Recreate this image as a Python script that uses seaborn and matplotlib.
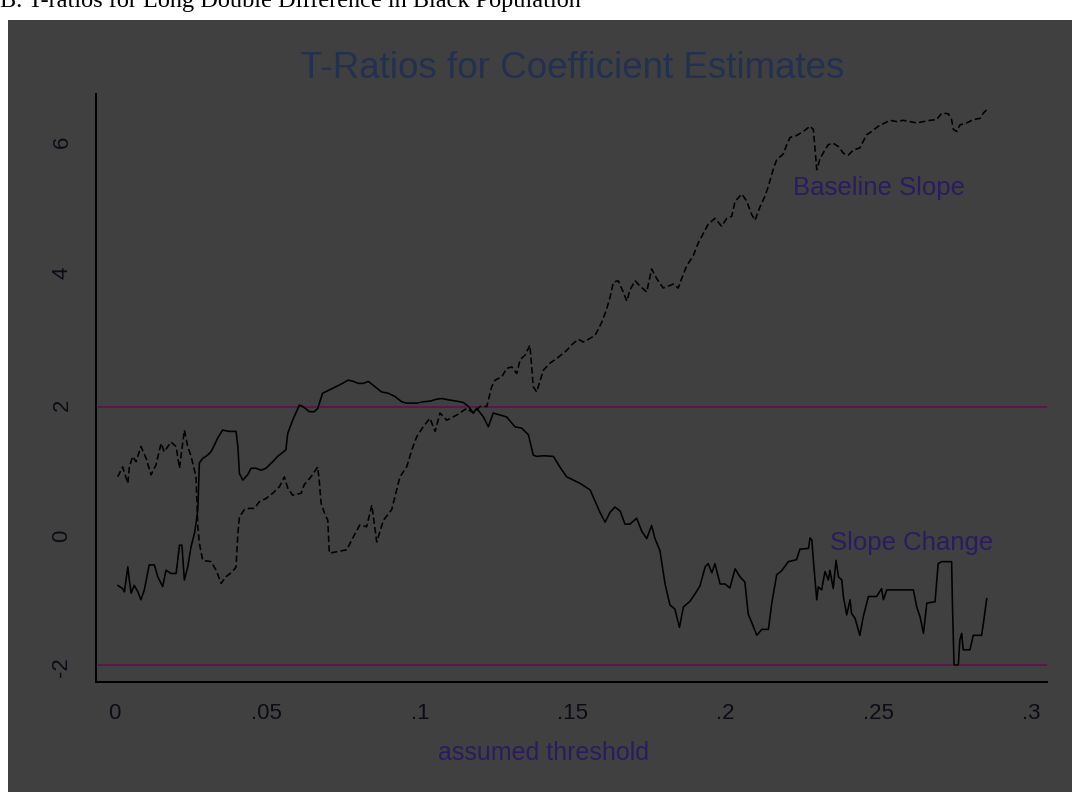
import matplotlib
matplotlib.use("Agg")
import matplotlib.pyplot as plt
from matplotlib.patches import Rectangle
import numpy as np
import pandas as pd
import seaborn as sns

# ---- data ---------------------------------------------------------------
baseline_x = [
    0.0012, 0.0028, 0.0045, 0.0050, 0.0061, 0.0072, 0.0088, 0.0105, 0.0121, 0.0137,
    0.0154, 0.0164, 0.0176, 0.0186, 0.0203, 0.0214, 0.0230, 0.0241, 0.0252, 0.0268,
    0.0274, 0.0279, 0.0290, 0.0317, 0.0334, 0.0350, 0.0366, 0.0388, 0.0399, 0.0405,
    0.0410, 0.0426, 0.0442, 0.0459, 0.0475, 0.0497, 0.0519, 0.0541, 0.0557, 0.0568,
    0.0584, 0.0612, 0.0622, 0.0644, 0.0666, 0.0671, 0.0677, 0.0688, 0.0699, 0.0704,
    0.0728, 0.0761, 0.0783, 0.0804, 0.0826, 0.0843, 0.0859, 0.0881, 0.0908, 0.0935,
    0.0957, 0.0974, 0.0990, 0.1011, 0.1033, 0.1050, 0.1066, 0.1088, 0.1121, 0.1153,
    0.1175, 0.1197, 0.1219, 0.1235, 0.1246, 0.1268, 0.1284, 0.1301, 0.1317, 0.1328,
    0.1344, 0.1360, 0.1371, 0.1382, 0.1404, 0.1426, 0.1448, 0.1469, 0.1480, 0.1497,
    0.1518, 0.1535, 0.1551, 0.1573, 0.1595, 0.1611, 0.1622, 0.1633, 0.1649, 0.1665,
    0.1677, 0.1687, 0.1704, 0.1720, 0.1742, 0.1758, 0.1775, 0.1796, 0.1829, 0.1845,
    0.1856, 0.1873, 0.1894, 0.1911, 0.1927, 0.1943, 0.1965, 0.1987, 0.2004, 0.2020,
    0.2031, 0.2053, 0.2069, 0.2085, 0.2096, 0.2112, 0.2129, 0.2140, 0.2156, 0.2167,
    0.2189, 0.2200, 0.2211, 0.2232, 0.2254, 0.2276, 0.2287, 0.2298, 0.2309, 0.2325,
    0.2336, 0.2352, 0.2369, 0.2385, 0.2401, 0.2418, 0.2439, 0.2461, 0.2478, 0.2499,
    0.2521, 0.2538, 0.2560, 0.2581, 0.2603, 0.2625, 0.2647, 0.2668, 0.2690, 0.2707,
    0.2728, 0.2739, 0.2745, 0.2756, 0.2766, 0.2788, 0.2810, 0.2832, 0.2843, 0.2854,
]
baseline_t = [
    0.90, 1.05, 0.80, 1.05, 1.21, 1.13, 1.36, 1.18, 0.93, 1.08,
    1.41, 1.28, 1.36, 1.43, 1.36, 1.03, 1.61, 1.36, 1.21, 0.90,
    0.14, -0.11, -0.37, -0.39, -0.52, -0.72, -0.62, -0.54, -0.47, 0.04,
    0.29, 0.40, 0.42, 0.42, 0.52, 0.57, 0.65, 0.75, 0.90, 0.73,
    0.62, 0.65, 0.78, 0.90, 1.05, 0.85, 0.50, 0.35, 0.24, -0.26,
    -0.24, -0.21, -0.01, 0.17, 0.14, 0.47, -0.09, 0.24, 0.40, 0.90,
    1.05, 1.31, 1.51, 1.66, 1.79, 1.59, 1.87, 1.76, 1.84, 1.94,
    1.87, 1.97, 1.97, 2.27, 2.37, 2.42, 2.55, 2.57, 2.47, 2.68,
    2.75, 2.90, 2.27, 2.19, 2.52, 2.63, 2.70, 2.78, 2.82, 2.91,
    2.99, 2.95, 2.99, 3.05, 3.25, 3.45, 3.63, 3.86, 3.88, 3.71,
    3.57, 3.74, 3.88, 3.80, 3.71, 4.06, 3.91, 3.77, 3.83, 3.77,
    3.91, 4.11, 4.26, 4.46, 4.60, 4.74, 4.83, 4.71, 4.83, 4.86,
    5.09, 5.20, 5.09, 4.89, 4.80, 5.00, 5.17, 5.32, 5.58, 5.72,
    5.81, 5.95, 6.06, 6.09, 6.15, 6.23, 6.18, 5.57, 5.74, 5.87,
    5.95, 5.97, 5.92, 5.82, 5.79, 5.87, 5.90, 6.10, 6.15, 6.23,
    6.28, 6.32, 6.30, 6.32, 6.30, 6.28, 6.30, 6.32, 6.33, 6.43,
    6.42, 6.33, 6.18, 6.15, 6.25, 6.28, 6.33, 6.35, 6.43, 6.48,
]

change_x = [
    0.0012, 0.0028, 0.0034, 0.0045, 0.0050, 0.0056, 0.0066, 0.0078, 0.0088, 0.0099,
    0.0115, 0.0132, 0.0143, 0.0159, 0.0170, 0.0186, 0.0203, 0.0214, 0.0222, 0.0230,
    0.0241, 0.0252, 0.0263, 0.0268, 0.0274, 0.0277, 0.0279, 0.0290, 0.0306, 0.0317,
    0.0328, 0.0339, 0.0355, 0.0377, 0.0399, 0.0405, 0.0410, 0.0421, 0.0437, 0.0448,
    0.0464, 0.0481, 0.0497, 0.0519, 0.0535, 0.0562, 0.0568, 0.0584, 0.0606, 0.0617,
    0.0639, 0.0655, 0.0666, 0.0682, 0.0717, 0.0739, 0.0766, 0.0783, 0.0799, 0.0815,
    0.0832, 0.0853, 0.0875, 0.0897, 0.0919, 0.0941, 0.0957, 0.0990, 0.1011, 0.1033,
    0.1055, 0.1072, 0.1093, 0.1121, 0.1142, 0.1159, 0.1175, 0.1186, 0.1208, 0.1224,
    0.1240, 0.1262, 0.1284, 0.1311, 0.1333, 0.1355, 0.1371, 0.1382, 0.1404, 0.1437,
    0.1458, 0.1480, 0.1502, 0.1524, 0.1557, 0.1573, 0.1589, 0.1606, 0.1622, 0.1638,
    0.1655, 0.1671, 0.1687, 0.1709, 0.1726, 0.1742, 0.1758, 0.1769, 0.1785, 0.1802,
    0.1818, 0.1834, 0.1849, 0.1862, 0.1884, 0.1900, 0.1916, 0.1933, 0.1943, 0.1955,
    0.1965, 0.1982, 0.1998, 0.2014, 0.2031, 0.2047, 0.2063, 0.2074, 0.2085, 0.2102,
    0.2118, 0.2140, 0.2151, 0.2167, 0.2183, 0.2205, 0.2232, 0.2243, 0.2271, 0.2276,
    0.2282, 0.2287, 0.2298, 0.2303, 0.2314, 0.2325, 0.2336, 0.2341, 0.2352, 0.2361,
    0.2369, 0.2380, 0.2385, 0.2396, 0.2407, 0.2412, 0.2423, 0.2439, 0.2450, 0.2467,
    0.2494, 0.2510, 0.2516, 0.2527, 0.2614, 0.2625, 0.2636, 0.2647, 0.2658, 0.2685,
    0.2695, 0.2707, 0.2739, 0.2742, 0.2747, 0.2761, 0.2766, 0.2772, 0.2777, 0.2799,
    0.2810, 0.2837, 0.2843, 0.2854,
]
change_t = [
    -0.75, -0.80, -0.85, -0.47, -0.67, -0.87, -0.75, -0.85, -0.97, -0.82,
    -0.44, -0.44, -0.62, -0.77, -0.52, -0.57, -0.57, -0.14, -0.14, -0.67,
    -0.47, -0.16, 0.04, 0.19, 0.40, 0.85, 1.11, 1.18, 1.23, 1.28,
    1.38, 1.49, 1.61, 1.59, 1.59, 1.36, 0.95, 0.85, 0.93, 1.03,
    1.03, 1.00, 1.03, 1.13, 1.21, 1.31, 1.56, 1.76, 1.99, 1.97,
    1.89, 1.89, 1.94, 2.17, 2.25, 2.30, 2.37, 2.35, 2.32, 2.32,
    2.35, 2.27, 2.19, 2.17, 2.12, 2.04, 2.02, 2.02, 2.04, 2.05,
    2.08, 2.09, 2.07, 2.05, 2.03, 1.97, 1.87, 1.94, 1.81, 1.66,
    1.87, 1.84, 1.81, 1.66, 1.64, 1.54, 1.23, 1.21, 1.22, 1.21,
    1.05, 0.90, 0.85, 0.80, 0.70, 0.53, 0.36, 0.21, 0.36, 0.44,
    0.38, 0.18, 0.18, 0.27, 0.07, -0.04, 0.16, -0.04, -0.22, -0.73,
    -1.05, -1.11, -1.39, -1.08, -0.99, -0.88, -0.76, -0.47, -0.42, -0.56,
    -0.42, -0.73, -0.73, -0.79, -0.50, -0.62, -0.70, -1.19, -1.31, -1.51,
    -1.42, -1.42, -1.02, -0.59, -0.53, -0.39, -0.36, -0.20, -0.19, -0.03,
    -0.06, -0.37, -0.97, -0.77, -0.82, -0.54, -0.67, -0.52, -0.80, -0.37,
    -0.62, -0.67, -0.92, -1.20, -0.97, -1.18, -1.25, -1.51, -1.23, -0.92,
    -0.92, -0.80, -0.97, -0.82, -0.82, -1.08, -1.23, -1.48, -1.02, -1.00,
    -0.42, -0.39, -0.39, -1.08, -1.96, -1.96, -1.58, -1.48, -1.73, -1.73,
    -1.51, -1.51, -1.33, -0.95,
]

critical_values = [1.96, -1.96]

series_names = ["Baseline Slope", "Slope Change"]
label_x = [0.222, 0.234]
label_y = [5.29, -0.11]

x_ticks = [0, 0.05, 0.10, 0.15, 0.20, 0.25, 0.30]
x_tick_labels = ["0", ".05", ".1", ".15", ".2", ".25", ".3"]
y_ticks = [-2, 0, 2, 4, 6]
y_tick_labels = ["-2", "0", "2", "4", "6"]

panel_heading = "B. T-ratios for Long Double Difference in Black Population"
chart_title = "T-Ratios for Coefficient Estimates"
x_title = "assumed threshold"

# ---- long-form table ----------------------------------------------------
df = pd.concat([
    pd.DataFrame({"threshold": baseline_x, "tratio": baseline_t, "series": series_names[0]}),
    pd.DataFrame({"threshold": change_x, "tratio": change_t, "series": series_names[1]}),
], ignore_index=True)

# ---- styling --------------------------------------------------------------
sns.set_theme(style="white")
plt.rcParams["font.family"] = ["Liberation Sans", "DejaVu Sans"]

W, H = 1072, 792
fig = plt.figure(figsize=(W / 100, H / 100), dpi=100, facecolor="white")

# dark graph region behind the plot
panel_bg = "#404040"
fig.patches.append(Rectangle((8 / W, 0), 1 - 8 / W, 1 - 20 / H,
                             transform=fig.transFigure, facecolor=panel_bg,
                             edgecolor="none", zorder=-10))

ax = fig.add_axes([96 / W, 110 / H, 951 / W, 588 / H])
ax.set_facecolor("none")
ax.set_zorder(5)

sns.lineplot(data=df, x="threshold", y="tratio", style="series",
             dashes={series_names[0]: (4, 2), series_names[1]: ""},
             color="black", linewidth=1.15, estimator=None, sort=False,
             legend=False, ax=ax)

for cv in critical_values:
    ax.axhline(cv, color="#5a1450", linewidth=1.3, zorder=1)

ax.set_xlim(-0.0059, 0.3051)
ax.set_ylim(-2.22, 6.72)

ax.set_xticks(x_ticks)
ax.set_xticklabels(x_tick_labels)
ax.set_yticks(y_ticks)
ax.set_yticklabels(y_tick_labels, rotation=90, va="center")

tick_color = "#0c0c16"
ax.tick_params(axis="both", direction="out", length=7, width=1.3,
               color="black", labelcolor=tick_color, labelsize=16)
ax.tick_params(axis="x", pad=8)
ax.tick_params(axis="y", pad=10)

for side in ("top", "right"):
    ax.spines[side].set_visible(False)
for side in ("left", "bottom"):
    ax.spines[side].set_color("black")
    ax.spines[side].set_linewidth(1.4)

ax.set_xlabel("")
ax.set_ylabel("")

label_color = "#2a1c5e"
for name, lx, ly in zip(series_names, label_x, label_y):
    ax.text(lx, ly, name, color=label_color, fontsize=18.5, ha="left", va="center")

fig.text(572 / W, 1 - 68 / H, chart_title, color="#22314f", fontsize=26.5,
         ha="center", va="center")
fig.text(544 / W, 1 - 753 / H, x_title, color=label_color, fontsize=18,
         ha="center", va="center")
fig.text(0.0, 1 - 7 / H, panel_heading, color="black", fontsize=17.5,
         family=["Liberation Serif", "DejaVu Serif"], ha="left", va="baseline")

fig.savefig("out.png", dpi=100, facecolor="white")
